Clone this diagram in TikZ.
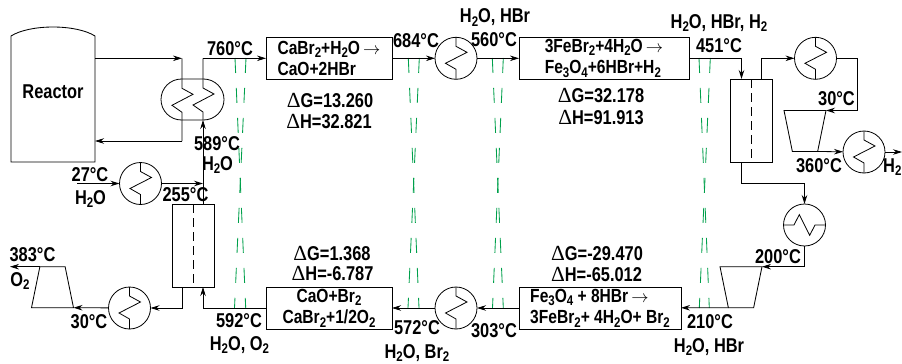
\documentclass[tikz,border=0pt]{standalone}
\usepackage{fontspec}
\usetikzlibrary{arrows.meta,shapes.geometric,shapes.misc}
\setmainfont{Liberation Sans}[FakeStretch=0.82]
\newfontfamily\symfont{Liberation Serif}
\definecolor{crossgreen}{RGB}{0,160,75}
\newcommand{\ssb}[1]{\raisebox{-0.35ex}{\fontsize{14}{14}\selectfont #1}}
\newcommand{\dlt}{{\symfont\mdseries\fontsize{21.5}{22}\selectfont Δ}}
\newcommand{\rarr}{\,$\rightarrow$}
\tikzset{
  lbl/.style={anchor=base,inner sep=0pt,font=\fontsize{20}{22}\selectfont\bfseries},
  box/.style={draw,line width=.85pt,inner sep=0pt,outer sep=0pt,minimum height=42pt,
    font=\fontsize{19}{21.5}\selectfont\bfseries},
  hx/.style={draw,circle,line width=.8pt,inner sep=0pt,outer sep=0pt,minimum size=42pt},
  tower/.style={draw,line width=.85pt,inner sep=0pt,outer sep=0pt,minimum width=42pt,minimum height=83pt},
  comp/.style={draw,line width=.85pt,trapezium,trapezium stretches=true,trapezium angle=75.6,
    inner sep=0pt,outer sep=0pt,minimum width=42pt,minimum height=41pt},
  flow/.style={line width=.8pt,-{Stealth[length=9pt,width=5.5pt]}},
  line/.style={line width=.8pt},
  cross/.style={draw=crossgreen,line width=.85pt,dash pattern=on 15pt off 15pt}
}
\begin{document}
\begin{tikzpicture}[x=1pt,y=-1pt]
      \clip (0,0) rectangle (902,364);
      \begin{scope}[cross]
        \draw (235,58) -- (245.7,308);
        \draw (246,58) -- (234.5,308);
        \draw (408.3,58) -- (419,308);
        \draw (419.3,58) -- (408,308);
        \draw (492.3,58) -- (503.3,308);
        \draw (503.3,58) -- (492.5,308);
        \draw (699,58) -- (709.3,308);
        \draw (710.3,58) -- (699.3,308);
      \end{scope}
      \draw
        (53,99) node[inner sep=0pt,outer sep=0pt,minimum width=84pt,minimum height=126pt] (reactor){}
        (53,98) node[lbl] (reactorname){Reactor}
        (329,58.3) node[box,minimum width=126pt,align=left] (boxa){CaBr\ssb{2}+H\ssb{2}O\rarr\\CaO+2HBr}
        (604,58.3) node[box,minimum width=170pt,align=left] (boxb){3FeBr\ssb{2}+4H\ssb{2}O\rarr\\Fe\ssb{3}O\ssb{4}+6HBr+H\ssb{2}}
        (329,308) node[box,minimum width=126pt,align=center] (boxc){CaO+Br\ssb{2}\\CaBr\ssb{2}+1/2O\ssb{2}}
        (600,308) node[box,minimum width=162pt,align=left] (boxd){Fe\ssb{3}O\ssb{4} + 8HBr\rarr\\3FeBr\ssb{2}+ 4H\ssb{2}O+ Br\ssb{2}}
        (192.5,99.5) node[draw,line width=.8pt,rounded rectangle,inner sep=0pt,outer sep=0pt,minimum width=63pt,minimum height=41pt] (hxbig){}
        (140.5,183.5) node[hx] (hxa){}
        (129.5,308) node[hx] (hxb){}
        (456,58.3) node[hx] (hxc){}
        (456,308) node[hx] (hxd){}
        (815.5,58.3) node[hx] (hxe){}
        (864,152) node[hx] (hxf){}
        (804.5,225) node[hx] (hxg){}
        (193,245.5) node[tower] (towa){}
        (751.8,120.5) node[tower] (towb){}
        (52.5,287.2) node[comp] (compa){\phantom{x}}
        (805,131) node[comp,rotate=180] (compb){\phantom{x}}
        (741,287.2) node[comp,rotate=180] (compc){\phantom{x}};
      \coordinate (ca) at (182,58.3);
      \coordinate (cb) at (203,58.3);
      \coordinate (cc) at (182,141);
      \coordinate (cd) at (741.5,58.3);
      \coordinate (ce) at (761.8,58.3);
      \coordinate (cf) at (741.5,183);
      \coordinate (cg) at (857.7,58.3);
      \coordinate (ch) at (77,183.5);
      \coordinate (ci) at (10,266.7);
      \coordinate (cj) at (902,152);
      \draw[line width=.85pt] (reactor.north west) .. controls (30,24) and (76,24) .. (reactor.north east) -- (reactor.south east) -- (reactor.south west) -- cycle;
      \foreach \hxname in {hxa,hxb,hxc,hxd,hxe,hxf}
        \draw[line] (\hxname.north) -- ++(0,9) -- ++(11,6) -- ++(-21.5,11) -- ++(10.5,6) -- (\hxname.south);
      \draw[line] (hxg.west) -- ++(10.5,0) -- ++(5.3,-10.4) -- ++(10.4,20.7) -- ++(5.3,-10.3) -- (hxg.east);
      \draw[line,dash pattern=on 9pt off 5pt] (towa.north) -- (towa.south);
      \draw[line,dash pattern=on 9pt off 5pt] (towb.north) -- (towb.south);
      \begin{scope}[flow]
        \draw (reactor.east |- ca) -- (ca);
        \draw (cc) -- (reactor.east |- cc);
        \draw (towa.north -| cb) -- (cb |- hxbig.south);
        \draw (cb) -- (boxa);
        \draw (ch) -- (hxa);
        \draw (hxa) -- (hxa -| cb);
        \draw (towa.south -| cc) -- (cc |- hxb) -- (hxb);
        \draw (hxb) -- (compa.bottom right corner);
        \draw (compa.top left corner) -- (ci);
        \draw (boxc) -- (boxc -| cb) -- (towa.south -| cb);
        \draw (boxa) -- (hxc);
        \draw (hxc) -- (boxb);
        \draw (boxb) -- (cd) -- (towb.north -| cd);
        \draw (towb.north -| ce) -- (ce) -- (hxe);
        \draw (hxe) -- (cg) -- (cg |- compb.bottom left corner) -- (compb.bottom left corner);
        \draw (compb.top left corner) -- (hxf);
        \draw (hxf) -- (cj);
        \draw (towb.south -| cf) -- (cf) -- (cf -| hxg) -- (hxg);
        \draw (hxg) -- (hxg |- compc.bottom left corner) -- (compc.bottom left corner);
        \draw (compc.top right corner) -- (boxd);
        \draw (boxd) -- (hxd);
        \draw (hxd) -- (boxc);
      \end{scope}
      \draw[line] (ca) -- ++(0,30) -- ++(11,6) -- ++(-21,11) -- ++(10,7) -- (cc);
      \draw[line] (cb |- hxbig.south) -- ++(0,-8) -- ++(-10,-7) -- ++(21,-11) -- ++(-11,-6) -- (cb);
      \draw
        (230,55) node[lbl] (ta){760°C}
        (416,47) node[lbl] (tb){684°C}
        (494,46) node[lbl] (tc){560°C}
        (495,23) node[lbl] (td){H\ssb{2}O, HBr}
        (719,52) node[lbl] (te){451°C}
        (719,28) node[lbl] (tf){H\ssb{2}O, HBr, H\ssb{2}}
        (330,107) node[lbl] (tg){\dlt G=13.260}
        (329,128) node[lbl] (th){\dlt H=32.821}
        (601,102) node[lbl] (ti){\dlt G=32.178}
        (601,124) node[lbl] (tj){\dlt H=91.913}
        (217,150) node[lbl] (tk){589°C}
        (217.5,170) node[lbl] (tl){H\ssb{2}O}
        (90,181) node[lbl] (tm){27°C}
        (90.5,204) node[lbl] (tn){H\ssb{2}O}
        (185.5,201.7) node[lbl] (to){255°C}
        (32.5,261) node[lbl] (tp){383°C}
        (20,286) node[lbl] (tq){O\ssb{2}}
        (89,328) node[lbl] (tr){30°C}
        (239,327) node[lbl] (ts){592°C}
        (239.5,350) node[lbl] (tt){H\ssb{2}O, O\ssb{2}}
        (332,260) node[lbl] (tu){\dlt G=1.368}
        (332.5,280.7) node[lbl] (tv){\dlt H=-6.787}
        (417,334) node[lbl] (tw){572°C}
        (417,358) node[lbl] (tx){H\ssb{2}O, Br\ssb{2}}
        (494,337) node[lbl] (ty){303°C}
        (597,260) node[lbl] (tz){\dlt G=-29.470}
        (596.5,281) node[lbl] (ua){\dlt H=-65.012}
        (710,328) node[lbl] (ub){210°C}
        (709,352) node[lbl] (uc){H\ssb{2}O, HBr}
        (778,263) node[lbl] (ud){200°C}
        (836.5,105) node[lbl] (ue){30°C}
        (819,172) node[lbl] (uf){360°C}
        (883,172) node[lbl,anchor=base west] (ug){H\ssb{2}};
    \end{tikzpicture}
\end{document}
